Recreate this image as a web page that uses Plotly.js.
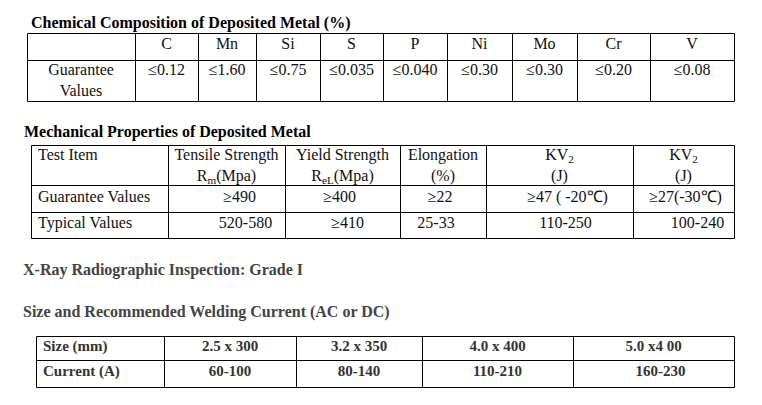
<!DOCTYPE html>
<html>
<head>
<meta charset="utf-8">
<script src="https://cdn.plot.ly/plotly-3.0.1.min.js"></script>
<style>
  html, body { margin: 0; padding: 0; background: #fff; }
  #chart { width: 762px; height: 405px; }
</style>
</head>
<body>
<div id="chart"></div>
<script>
// table contents
const chemTitle = "Chemical Composition of Deposited Metal (%)";
const chemElements = ["C", "Mn", "Si", "S", "P", "Ni", "Mo", "Cr", "V"];
const chemRowLabel = "Guarantee<br>Values";
const chemGuarantee = ["≤0.12", "≤1.60", "≤0.75", "≤0.035", "≤0.040", "≤0.30", "≤0.30", "≤0.20", "≤0.08"];

const mechTitle = "Mechanical Properties of Deposited Metal";
const mechHeaders = [
  "Test Item",
  "Tensile Strength<br>R<sub>m</sub>(Mpa)",
  "Yield Strength<br>R<sub>eL</sub>(Mpa)",
  "Elongation<br>(%)",
  "KV<sub>2</sub><br>(J)",
  "KV<sub>2</sub><br>(J)",
];
const mechGuarantee = ["Guarantee Values", "≥490", "≥400", "≥22", "≥47 ( -20℃)", "≥27(-30℃)"];
const mechTypical = ["Typical Values", "520-580", "≥410", "25-33", "110-250", "100-240"];

const xrayNote = "X-Ray Radiographic Inspection: Grade I";

const sizeTitle = "Size and Recommended Welding Current (AC or DC)";
const sizeLabels = ["Size (mm)", "Current (A)"];
const sizes = ["2.5 x 300", "3.2 x 350", "4.0 x 400", "5.0 x4 00"];
const currents = ["60-100", "80-140", "110-210", "160-230"];

// grid geometry, in pixels of the 762x405 page
const chemCols = [27, 135, 198, 256, 320, 383, 447, 512, 577, 650, 734];
const chemRows = [33, 60, 101];
const mechCols = [31, 168, 285, 400, 486, 633, 734];
const mechRows = [145, 185, 212, 238];
const sizeCols = [36, 164, 296, 422, 573, 734];
const sizeRows = [336, 360, 387];

// small nudges of the value cells, as in the original word layout
const mechGuaranteeShift = [0, 13, -3, -3, 8, 2];
const mechTypicalShift = [0, 19, 5, -7, 6, 14];
const sizeCurrentShift = [0, 0, 0, 7];

const serif = "Liberation Serif, Times New Roman, serif";

function gridShapes(cols, rows, color) {
  const shapes = [];
  const x0 = cols[0] + 0.5, x1 = cols[cols.length - 1] + 0.5;
  const y0 = rows[0] + 0.5, y1 = rows[rows.length - 1] + 0.5;
  rows.forEach((r) => {
    shapes.push({ type: "line", xref: "x", yref: "y", x0: x0, x1: x1, y0: r + 0.5, y1: r + 0.5,
      line: { color: color, width: 1 } });
  });
  cols.forEach((c) => {
    shapes.push({ type: "line", xref: "x", yref: "y", x0: c + 0.5, x1: c + 0.5, y0: y0, y1: y1,
      line: { color: color, width: 1 } });
  });
  return shapes;
}

function textLayer(size, color, bold) {
  return {
    type: "scatter", mode: "text", x: [], y: [], text: [], textposition: [],
    textfont: { family: serif, size: size, color: color, weight: bold ? "bold" : "normal" },
    hoverinfo: "skip", showlegend: false, cliponaxis: false,
  };
}

// baseline -> y of the text top for "bottom" positions
function put(layer, text, x, baseline, align) {
  layer.x.push(x);
  layer.y.push(baseline - layer.textfont.size * 0.75);
  layer.text.push(text);
  layer.textposition.push(align === "left" ? "bottom right" : "bottom center");
}

const mid = (cols, i) => (cols[i] + cols[i + 1]) / 2;

// titles
const titles = textLayer(16, "#000", true);
put(titles, chemTitle, 31, 28, "left");
put(titles, mechTitle, 24, 137, "left");
const notes = textLayer(16, "#444", true);
put(notes, xrayNote, 23, 275, "left");
put(notes, sizeTitle, 23, 317, "left");

// chemical composition
const chem = textLayer(16, "#111", false);
chemElements.forEach((el, i) => put(chem, el, mid(chemCols, i + 1), 49, "center"));
put(chem, chemRowLabel, mid(chemCols, 0), 75, "center");
chemGuarantee.forEach((v, i) => put(chem, v, mid(chemCols, i + 1), 75, "center"));

// mechanical properties
const mech = textLayer(16, "#111", false);
mechHeaders.forEach((h, i) => {
  if (i === 0) put(mech, h, mechCols[0] + 7, 160, "left");
  else put(mech, h, mid(mechCols, i), 160, "center");
});
mechGuarantee.forEach((v, i) => {
  if (i === 0) put(mech, v, mechCols[0] + 7, 202, "left");
  else put(mech, v, mid(mechCols, i) + mechGuaranteeShift[i], 202, "center");
});
mechTypical.forEach((v, i) => {
  if (i === 0) put(mech, v, mechCols[0] + 7, 228, "left");
  else put(mech, v, mid(mechCols, i) + mechTypicalShift[i], 228, "center");
});

// size and current
const sz = textLayer(15, "#333", true);
put(sz, sizeLabels[0], sizeCols[0] + 7, 351, "left");
put(sz, sizeLabels[1], sizeCols[0] + 7, 376, "left");
sizes.forEach((s, i) => put(sz, s, mid(sizeCols, i + 1), 351, "center"));
currents.forEach((c, i) => put(sz, c, mid(sizeCols, i + 1) + sizeCurrentShift[i], 376, "center"));

const layout = {
  width: 762,
  height: 405,
  margin: { l: 0, r: 0, t: 0, b: 0 },
  paper_bgcolor: "#fff",
  plot_bgcolor: "#fff",
  xaxis: { range: [0, 762], visible: false, fixedrange: true },
  yaxis: { range: [405, 0], visible: false, fixedrange: true },
  shapes: [].concat(
    gridShapes(chemCols, chemRows, "#000"),
    gridShapes(mechCols, mechRows, "#000"),
    gridShapes(sizeCols, sizeRows, "#000")
  ),
  showlegend: false,
};

Plotly.newPlot("chart", [titles, notes, chem, mech, sz], layout, { staticPlot: true, displayModeBar: false });
</script>
</body>
</html>
